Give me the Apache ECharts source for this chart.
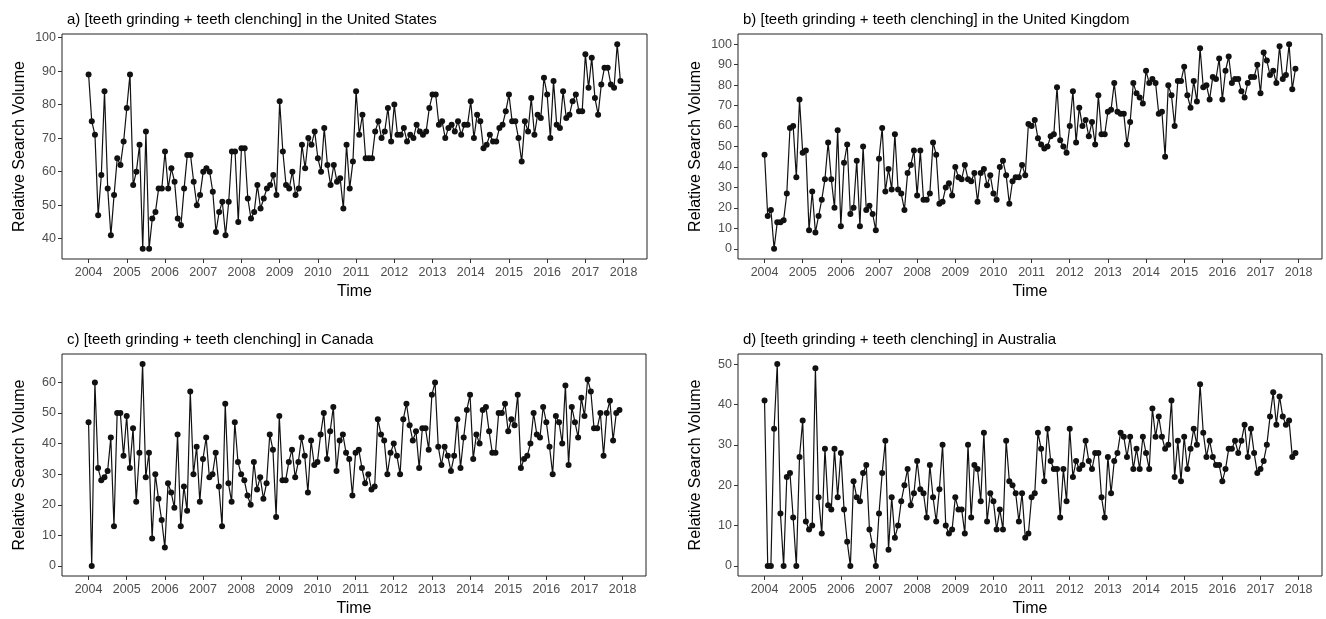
<!DOCTYPE html>
<html><head><meta charset="utf-8">
<script src="https://cdn.jsdelivr.net/npm/echarts@6.0.0/dist/echarts.min.js"></script>
<style>html,body{margin:0;padding:0;background:#fff}#c{width:1326px;height:619px}</style>
</head><body><div id="c"></div>
<script>
// Monthly data, Jan 2004 .. Dec 2017
const startYear = 2004;
const yearTickLabels = [2004,2005,2006,2007,2008,2009,2010,2011,2012,2013,2014,2015,2016,2017,2018];

const usValues = [
 89,75,71,47,59,84,55,41,53,64,62,69,
 79,89,56,60,68,37,72,37,46,48,55,55,
 66,55,61,57,46,44,55,65,65,57,50,53,
 60,61,60,54,42,48,51,41,51,66,66,45,
 67,67,52,46,48,56,49,52,55,56,59,53,
 81,66,56,55,60,53,55,68,61,70,68,72,
 64,60,73,62,56,62,57,58,49,68,55,63,
 84,71,77,64,64,64,72,75,70,72,79,69,
 80,71,71,73,69,71,70,74,72,71,72,79,
 83,83,74,75,70,73,74,72,75,71,74,74,
 81,70,77,75,67,68,71,69,69,73,74,78,
 83,75,75,70,63,75,72,82,71,77,76,88,
 83,70,87,74,73,84,76,77,81,83,78,78,
 95,85,94,82,77,86,91,91,86,85,98,87
];
const ukValues = [
 46,16,19,0,13,13,14,27,59,60,35,73,
 47,48,9,28,8,16,24,34,52,34,20,58,
 11,42,51,17,20,43,11,50,19,21,17,9,
 44,59,28,39,29,56,29,27,19,37,41,48,
 26,48,24,24,27,52,46,22,23,30,32,26,
 40,35,34,41,34,33,37,23,37,39,31,36,
 27,24,40,43,36,22,33,35,35,41,36,61,
 60,63,54,51,49,50,55,56,79,53,50,47,
 60,77,52,69,60,63,55,62,51,75,56,56,
 67,68,81,67,66,66,51,62,81,76,74,71,
 87,81,83,81,66,67,45,80,75,60,82,82,
 89,75,69,82,72,98,79,80,73,84,83,93,
 73,87,94,81,83,83,77,74,81,84,84,90,
 76,96,92,85,87,81,99,83,85,100,78,88
];
const caValues = [
 47,0,60,32,28,29,31,42,13,50,50,36,
 49,32,45,21,37,66,29,37,9,30,22,15,
 6,27,24,19,43,13,26,18,57,30,39,21,
 35,42,29,30,37,26,13,53,27,21,47,34,
 30,28,23,20,34,25,29,22,27,43,38,16,
 49,28,28,34,38,29,34,42,36,24,41,33,
 34,43,50,35,44,52,31,41,43,37,35,23,
 37,38,32,27,30,25,26,48,43,41,30,37,
 40,36,30,48,53,46,41,44,32,45,45,38,
 56,60,39,33,39,36,31,36,48,32,42,51,
 56,35,43,40,51,52,44,37,37,50,50,53,
 44,48,46,56,32,35,36,40,50,43,42,52,
 47,39,30,49,47,40,59,33,52,47,42,55,
 49,61,57,45,45,50,36,50,54,41,50,51
];
const auValues = [
 41,0,0,34,50,13,0,22,23,12,0,27,
 36,11,9,10,49,17,8,29,15,14,29,17,
 28,14,6,0,21,17,16,23,25,9,5,0,
 13,23,31,4,17,7,10,16,20,24,15,18,
 26,19,18,12,25,17,11,19,30,10,8,9,
 17,14,14,8,30,12,25,24,16,33,11,18,
 16,9,14,9,31,21,20,18,11,18,7,8,
 17,18,33,29,21,34,26,24,24,12,24,16,
 34,22,26,24,25,31,26,24,28,28,17,12,
 27,18,26,28,33,32,27,32,24,29,24,32,
 28,24,39,32,37,32,29,30,41,22,31,21,
 32,24,29,34,30,45,33,27,31,27,25,25,
 21,24,29,29,31,28,31,35,27,34,28,23,
 24,26,30,37,43,35,42,37,35,36,27,28
];

const panelTitles = [
 'a) [teeth grinding + teeth clenching] in the United States',
 'b) [teeth grinding + teeth clenching] in the United Kingdom',
 'c) [teeth grinding + teeth clenching] in Canada',
 'd) [teeth grinding + teeth clenching] in Australia'
];
const panelValues = [usValues, ukValues, caValues, auValues];

// layout (positions / sizes)
const grids = [
 {left:62, top:34, width:585, height:225},
 {left:738, top:34, width:584, height:225},
 {left:62, top:354, width:584, height:222},
 {left:738, top:354, width:584, height:222}
];
const titleTops = [7, 7, 327, 327];

const FONT = '"Liberation Sans", Arial, Helvetica, sans-serif';
const xTickVals = yearTickLabels.map(y => (y - startYear) * 12);

const options = {
 animation: false,
 backgroundColor: '#fff',
 title: [], grid: [], xAxis: [], yAxis: [], series: []
};

panelValues.forEach((vals, i) => {
 const n = vals.length;
 const xMin = -0.05 * (n - 1), xMax = (n - 1) * 1.05;
 const vmin = Math.min(...vals), vmax = Math.max(...vals);
 const d = vmax - vmin;
 const yMin = vmin - 0.05 * d, yMax = vmax + 0.05 * d;
 const yTicks = [];
 for (let t = Math.ceil(yMin / 10) * 10; t <= yMax; t += 10) yTicks.push(t);

 options.title.push({
  text: panelTitles[i], left: grids[i].left, top: titleTops[i],
  textStyle: {fontFamily: FONT, fontSize: 15, fontWeight: 'normal', color: '#000'}
 });
 options.grid.push(Object.assign({show: true, borderColor: '#222', borderWidth: 1, containLabel: false}, grids[i]));
 options.xAxis.push({
  type: 'value', gridIndex: i, min: xMin, max: xMax,
  name: 'Time', nameLocation: 'middle', nameGap: 25,
  nameTextStyle: {fontFamily: FONT, fontSize: 16, color: '#000'},
  axisLine: {show: false, onZero: false},
  splitLine: {show: false},
  axisTick: {show: true, length: 4, lineStyle: {color: '#333'}, customValues: xTickVals},
  axisLabel: {customValues: xTickVals, formatter: v => String(startYear + Math.round(v / 12)),
   fontFamily: FONT, fontSize: 12.5, color: '#4d4d4d', margin: 7}
 });
 options.yAxis.push({
  type: 'value', gridIndex: i, min: yMin, max: yMax,
  name: 'Relative Search Volume', nameLocation: 'middle', nameGap: 34,
  nameTextStyle: {fontFamily: FONT, fontSize: 16, color: '#000'},
  axisLine: {show: false, onZero: false},
  splitLine: {show: false},
  axisTick: {show: true, length: 4, lineStyle: {color: '#333'}, customValues: yTicks},
  axisLabel: {customValues: yTicks, fontFamily: FONT, fontSize: 12.5, color: '#4d4d4d', margin: 6}
 });
 options.series.push({
  type: 'line', xAxisIndex: i, yAxisIndex: i,
  data: vals.map((v, k) => [k, v]),
  symbol: 'circle', symbolSize: 6, showSymbol: true,
  lineStyle: {color: '#111', width: 1.2},
  itemStyle: {color: '#111'},
  emphasis: {disabled: true}
 });
});

const chart = echarts.init(document.getElementById('c'), null, {renderer: 'canvas'});
chart.setOption(options);
</script>
</body></html>
